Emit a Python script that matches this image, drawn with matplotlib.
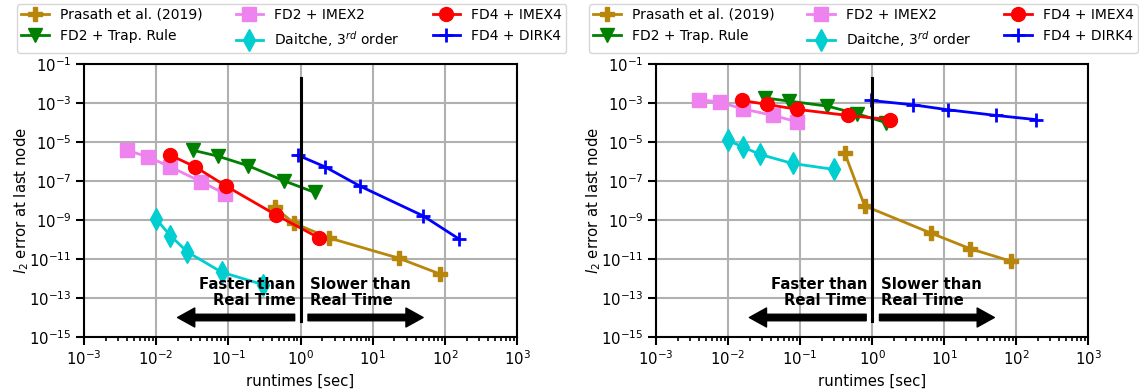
import numpy as np
import matplotlib
matplotlib.use("Agg")
import matplotlib.pyplot as plt
from matplotlib.ticker import LogLocator, NullLocator, FixedLocator

# ---------------- data ----------------
labels = ["Prasath et al. (2019)", "FD2 + Trap. Rule", "FD2 + IMEX2",
          r"Daitche, 3$^{rd}$ order", "FD4 + IMEX4", "FD4 + DIRK4"]

# left panel
L_prasath_t = [0.44, 0.81, 2.5, 23, 86]
L_prasath_e = [4.4e-9, 6.9e-10, 1.2e-10, 1.1e-11, 1.7e-12]
L_trap_t = [0.032, 0.071, 0.19, 0.60, 1.57]
L_trap_e = [3.8e-6, 1.9e-6, 6.0e-7, 1.0e-7, 2.6e-8]
L_imex2_t = [0.0039, 0.0078, 0.0155, 0.042, 0.090]
L_imex2_e = [3.8e-6, 1.7e-6, 5.4e-7, 9.2e-8, 2.2e-8]
L_daitche_t = [0.010, 0.0157, 0.027, 0.081, 0.30]
L_daitche_e = [1.1e-9, 1.6e-10, 2.3e-11, 2.1e-12, 4.9e-13]
L_imex4_t = [0.0157, 0.0345, 0.093, 0.46, 1.81]
L_imex4_e = [2.1e-6, 5.4e-7, 5.5e-8, 1.8e-9, 1.2e-10]
L_dirk4_t = [0.92, 2.17, 6.65, 50.5, 155]
L_dirk4_e = [2.1e-6, 5.4e-7, 5.5e-8, 1.6e-9, 1.1e-10]

# right panel
R_prasath_t = [0.42, 0.79, 6.65, 23, 86]
R_prasath_e = [2.6e-6, 5.3e-9, 2.1e-10, 3.4e-11, 7.6e-12]
R_trap_t = [0.033, 0.071, 0.24, 0.62, 1.57]
R_trap_e = [1.8e-3, 1.25e-3, 6.9e-4, 2.8e-4, 9.8e-5]
R_imex2_t = [0.0040, 0.0078, 0.0159, 0.0427, 0.090]
R_imex2_e = [1.5e-3, 1.1e-3, 5.0e-4, 2.3e-4, 1.1e-4]
R_daitche_t = [0.010, 0.016, 0.028, 0.079, 0.30]
R_daitche_e = [1.2e-5, 5.6e-6, 2.3e-6, 7.9e-7, 3.9e-7]
R_imex4_t = [0.0155, 0.0345, 0.092, 0.46, 1.8]
R_imex4_e = [1.35e-3, 8.5e-4, 4.7e-4, 2.3e-4, 1.4e-4]
R_dirk4_t = [0.96, 3.7, 11.3, 53, 192]
R_dirk4_e = [1.35e-3, 8.1e-4, 4.5e-4, 2.3e-4, 1.4e-4]

left_series = [(L_prasath_t, L_prasath_e), (L_trap_t, L_trap_e), (L_imex2_t, L_imex2_e),
               (L_daitche_t, L_daitche_e), (L_imex4_t, L_imex4_e), (L_dirk4_t, L_dirk4_e)]
right_series = [(R_prasath_t, R_prasath_e), (R_trap_t, R_trap_e), (R_imex2_t, R_imex2_e),
                (R_daitche_t, R_daitche_e), (R_imex4_t, R_imex4_e), (R_dirk4_t, R_dirk4_e)]

colors = ["darkgoldenrod", "green", "violet", "darkturquoise", "red", "blue"]
markers = ["P", "v", "s", "d", "o", "+"]
msizes = [10, 10, 10, 11, 10, 10]

plt.rcParams['font.family'] = ['DejaVu Sans']
FS = 10.7
fig = plt.figure(figsize=(11.39, 3.89), dpi=100)
ax1 = fig.add_axes([84/1139, 1-337/389, 433/1139, 273/389])
ax2 = fig.add_axes([656/1139, 1-337/389, 432/1139, 273/389])

for ax, series in [(ax1, left_series), (ax2, right_series)]:
    for (t, e), c, m, ms, lab in zip(series, colors, markers, msizes, labels):
        mew = 2 if m == "+" else 1
        ax.plot(t, e, color=c, marker=m, markersize=ms, markeredgewidth=mew,
                linewidth=2, label=lab)
    ax.set_xscale('log')
    ax.set_yscale('log')
    ax.set_xlim(1e-3, 1e3)
    ax.set_ylim(1e-15, 1e-1)
    ax.yaxis.set_major_locator(FixedLocator([10.0**k for k in range(-15, 0, 2)]))
    ax.yaxis.set_minor_locator(NullLocator())
    ax.xaxis.set_major_locator(LogLocator(base=10, numticks=10))
    ax.xaxis.set_minor_locator(LogLocator(base=10, subs=np.arange(2, 10), numticks=10))
    ax.grid(True, which='major', color='#b0b0b0', linewidth=1.5)
    ax.set_axisbelow(True)
    for s in ax.spines.values():
        s.set_linewidth(1.5)
    ax.tick_params(which='major', length=5.5, width=1.5, labelsize=FS)
    ax.tick_params(which='minor', length=3, width=1.2)
    ax.set_xlabel("runtimes [sec]", fontsize=FS)
    ax.set_ylabel(r"$l_2$ error at last node", fontsize=FS)
    ax.yaxis.set_label_coords(-0.122, 0.5)

    # real-time separator
    ax.plot([1, 1], [2e-2, 6.6e-15], color='black', linewidth=2.2, zorder=5)
    ax.text(0.85, 10**-12.72, "Faster than\nReal Time", ha='right', va='center',
            fontsize=FS, fontweight='bold', multialignment='right', zorder=6,
            linespacing=1.15)
    ax.text(1.34, 10**-12.72, "Slower than\nReal Time", ha='left', va='center',
            fontsize=FS, fontweight='bold', multialignment='left', zorder=6,
            linespacing=1.15)
    arrow_style = "simple,head_length=0.95,head_width=1.05,tail_width=0.36"
    ax.annotate("", xy=(0.0198, 1e-14), xytext=(0.83, 1e-14),
                arrowprops=dict(arrowstyle=arrow_style, mutation_scale=13,
                                color='black', shrinkA=0, shrinkB=0))
    ax.annotate("", xy=(50, 1e-14), xytext=(1.27, 1e-14),
                arrowprops=dict(arrowstyle=arrow_style, mutation_scale=13,
                                color='black', shrinkA=0, shrinkB=0))
    ax.legend(loc='lower center', bbox_to_anchor=(0.48, 1.015), ncol=3, fontsize=10,
              borderpad=0.3, columnspacing=2.35)

fig.savefig("out.png", dpi=100)
